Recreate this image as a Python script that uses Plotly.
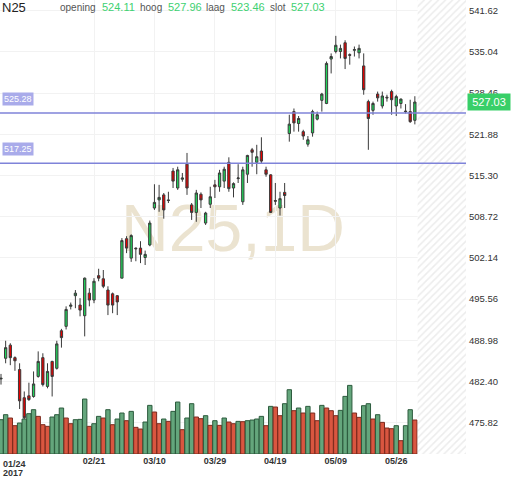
import plotly.graph_objects as go

# daily candles, 01/24 .. last session (index based x axis)
opens = [482.8, 486.1, 488.2, 486.2, 484.3, 479.8, 480.1, 480.0, 483.2, 486.2,
         481.6, 485.6, 484.5, 490.5, 491.2, 494.4, 496.1, 494.6, 492.9, 496.5,
         495.4, 499.3, 498.8, 497.0, 496.4, 496.1, 498.9, 505.2, 502.1, 503.7,
         503.7, 502.2, 504.2, 510.1, 511.4, 512.2, 511.4, 516.0, 513.3, 514.7,
         517.1, 510.6, 509.4, 512.3, 507.7, 510.7, 513.8, 513.5, 514.4, 517.4,
         513.3, 514.8, 511.1, 515.5, 519.4, 517.4, 519.2, 516.2, 515.4, 511.3,
         510.1, 512.6, 522.0, 525.5, 523.6, 522.3, 520.3, 522.1, 524.3, 527.3,
         526.8, 533.9, 535.1, 535.1, 536.5, 534.6, 535.3, 534.9, 532.8, 527.1,
         525.7, 528.3, 526.4, 527.8, 528.7, 526.4, 526.8, 525.6, 525.5, 524.11]
highs = [483.6, 488.9, 488.5, 486.4, 485.3, 480.8, 482.2, 484.0, 487.2, 486.9,
         485.3, 485.7, 488.9, 490.8, 494.4, 495.0, 497.0, 495.7, 499.0, 497.3,
         498.9, 500.4, 500.2, 497.6, 496.6, 496.2, 505.3, 505.6, 505.9, 503.8,
         504.8, 503.3, 508.1, 513.9, 513.8, 512.5, 512.7, 516.5, 516.7, 515.7,
         518.9, 510.9, 513.0, 512.6, 509.5, 513.5, 514.6, 516.2, 516.7, 518.2,
         514.2, 517.1, 516.7, 518.6, 519.7, 520.2, 521.4, 516.7, 515.5, 514.1,
         512.7, 514.1, 525.0, 526.0, 524.8, 522.6, 521.6, 525.8, 525.5, 528.5,
         533.5, 534.8, 537.6, 536.2, 536.9, 534.8, 535.9, 536.2, 534.8, 527.4,
         527.1, 528.7, 528.7, 528.2, 529.0, 528.2, 527.6, 526.7, 527.4, 527.96]
lows = [481.9, 485.3, 485.0, 484.1, 478.0, 476.4, 479.3, 479.8, 483.0, 481.6,
        481.3, 480.0, 484.3, 487.8, 490.7, 493.9, 494.1, 492.8, 489.6, 494.4,
        494.9, 498.4, 497.3, 493.0, 493.3, 493.0, 498.9, 502.9, 501.5, 501.6,
        501.3, 501.0, 504.0, 509.8, 509.5, 508.4, 510.9, 513.3, 513.0, 514.3,
        512.2, 508.2, 507.9, 510.1, 507.4, 510.1, 511.7, 512.7, 513.3, 512.7,
        511.8, 514.1, 510.6, 514.1, 516.7, 515.5, 517.3, 515.1, 509.3, 510.6,
        508.9, 510.1, 520.7, 522.3, 522.3, 521.0, 519.9, 521.5, 524.1, 525.5,
        526.7, 531.6, 534.8, 534.0, 532.3, 533.0, 534.3, 534.0, 528.2, 519.4,
        525.0, 527.1, 526.0, 527.1, 525.0, 524.8, 526.0, 525.2, 523.7, 523.46]
closes = [482.9, 487.8, 486.2, 485.7, 479.3, 476.6, 479.5, 482.0, 485.6, 481.9,
          484.0, 483.2, 488.4, 489.4, 493.9, 494.6, 496.5, 493.8, 498.9, 495.4,
          498.4, 498.9, 497.6, 494.6, 494.6, 495.1, 504.9, 503.7, 505.7, 503.6,
          502.7, 502.7, 507.7, 511.0, 511.8, 509.8, 511.3, 514.4, 516.2, 514.9,
          513.3, 509.4, 512.5, 511.4, 509.3, 511.9, 513.5, 515.7, 516.3, 513.2,
          514.0, 514.9, 516.2, 518.5, 519.0, 518.3, 517.6, 515.5, 509.4, 511.2,
          511.6, 512.1, 523.5, 523.7, 524.4, 521.6, 521.0, 525.5, 525.0, 528.3,
          533.2, 534.3, 536.1, 535.6, 534.0, 534.5, 535.4, 535.6, 529.0, 524.4,
          526.8, 527.7, 528.0, 527.7, 527.4, 527.9, 527.5, 525.5, 523.9, 527.03]
volumes = [103, 118, 108, 85, 93, 105, 121, 133, 113, 88,
           83, 111, 118, 138, 108, 91, 103, 104, 165, 83,
           91, 113, 108, 133, 88, 105, 123, 100, 128, 80,
           75, 96, 146, 126, 91, 105, 98, 128, 156, 73,
           108, 151, 111, 106, 115, 86, 100, 86, 108, 96,
           91, 98, 97, 100, 102, 105, 113, 85, 143, 141,
           115, 151, 193, 130, 138, 123, 143, 123, 100, 146,
           138, 130, 115, 131, 173, 206, 123, 110, 145, 151,
           105, 118, 95, 78, 76, 85, 40, 85, 133, 102]

tick_pos = [0, 20, 33, 46, 59, 72, 85]
tick_labels = ['', '02/21', '03/10', '03/29', '04/19', '05/09', '05/26']
first_label = '01/24'
year_label = '2017'

price_ticks = [475.82, 482.40, 488.98, 495.56, 502.14, 508.72,
               515.30, 521.88, 528.46, 535.04, 541.62]
levels = [525.28, 517.25]

symbol = 'N25'
price_range = [470.81, 543.33]
x_range = [-0.215, 100.0]

n = len(closes)
idx = list(range(n))

GREEN_V, GREEN_V_LINE = '#64a67c', '#2c5b3d'
RED_V, RED_V_LINE = '#d95640', '#7a2a1d'
vol_fill, vol_line = [], []
for i, v in enumerate(volumes):
    up = i == 0 or v > volumes[i - 1]
    vol_fill.append(GREEN_V if up else RED_V)
    vol_line.append(GREEN_V_LINE if up else RED_V_LINE)

fig = go.Figure()

# volume on the base axis so the candles (overlay axis) sit on top
fig.add_trace(go.Bar(
    x=idx, y=volumes, yaxis='y',
    marker=dict(color=vol_fill, line=dict(color=vol_line, width=1)),
    hoverinfo='skip', showlegend=False))

# hatched "future" zone
fig.add_trace(go.Scatter(
    x=[n - 0.4, x_range[1], x_range[1], n - 0.4],
    y=[price_range[0], price_range[0], price_range[1], price_range[1]],
    yaxis='y2', mode='none', fill='toself', fillcolor='white',
    fillpattern=dict(shape='/', fgcolor='#d9d9d9', bgcolor='white',
                     size=5, solidity=0.3),
    hoverinfo='skip', showlegend=False))

fig.add_trace(go.Candlestick(
    x=idx, open=opens, high=highs, low=lows, close=closes, yaxis='y2',
    increasing=dict(fillcolor='#22d35b', line=dict(color='#3a3a3a', width=1)),
    decreasing=dict(fillcolor='#e50000', line=dict(color='#3a3a3a', width=1)),
    whiskerwidth=0, showlegend=False))

shapes = []
for lv in levels:
    shapes.append(dict(type='line', xref='paper', x0=0, x1=1, yref='y2',
                       y0=lv, y1=lv, line=dict(color='#7f83d9', width=1.5)))
# watermark behind the candles
shapes.append(dict(type='rect', xref='paper', yref='paper', x0=0.2, x1=0.8,
                   y0=0.4, y1=0.62, line=dict(width=0), layer='below',
                   label=dict(text='N25,1D', textposition='middle center',
                              font=dict(size=66, color='#ebe3d0',
                                        family='Liberation Sans, Arial'))))

annotations = []
for lv in levels:
    annotations.append(dict(
        xref='paper', x=0, xanchor='left', xshift=2, yref='y2', y=lv,
        yanchor='bottom', yshift=7, text=f'{lv:.2f}', showarrow=False,
        bgcolor='#a9abea', borderpad=1,
        font=dict(size=9, color='white')))

annotations.append(dict(
    xref='paper', x=1, xanchor='left', xshift=1, yref='y2', y=closes[-1],
    text=f'{closes[-1]:.2f}', showarrow=False, bgcolor='#38cf68',
    borderpad=2, width=38, font=dict(size=11, color='white')))

for txt, dy in [(first_label, -3), (year_label, -12)]:
    annotations.append(dict(
        xref='paper', x=0, xanchor='left', xshift=1, yref='paper', y=0,
        yanchor='top', yshift=dy, text=txt, showarrow=False,
        font=dict(size=9, color='#333', weight='bold')))

# header line
header = [(symbol, 0, 13, '#222'),
          ('opening', 58, 10, '#555'), (f'{opens[-1]:.2f}', 100, 11, '#3dd171'),
          ('hoog', 138, 10, '#555'), (f'{highs[-1]:.2f}', 166, 11, '#3dd171'),
          ('laag', 204, 10, '#555'), (f'{lows[-1]:.2f}', 229, 11, '#3dd171'),
          ('slot', 268, 10, '#555'), (f'{closes[-1]:.2f}', 289, 11, '#3dd171')]
for txt, px, size, col in header:
    annotations.append(dict(
        xref='paper', x=0, xanchor='left', xshift=px, yref='paper', y=1,
        yanchor='middle', yshift=-7, text=txt, showarrow=False,
        font=dict(size=size, color=col)))

fig.update_layout(
    width=512, height=477,
    margin=dict(l=0, r=46, t=0, b=23),
    paper_bgcolor='white', plot_bgcolor='white',
    font=dict(family='Liberation Sans, Arial, sans-serif', color='#333'),
    bargap=0.06, showlegend=False, hovermode=False,
    shapes=shapes, annotations=annotations,
    xaxis=dict(range=x_range, rangeslider=dict(visible=False),
               tickmode='array', tickvals=tick_pos, ticktext=tick_labels,
               showgrid=True, gridcolor='#f2f2f2', zeroline=False,
               showline=False, ticks='', automargin=False,
               tickfont=dict(size=9, color='#333', weight='bold')),
    yaxis=dict(range=[0, 1363], visible=False, showgrid=False,
               fixedrange=True, automargin=False),
    yaxis2=dict(range=price_range, overlaying='y', side='right',
                tickmode='array', tickvals=price_ticks,
                ticktext=[f'{t:.2f}' for t in price_ticks],
                showgrid=True, gridcolor='#f2f2f2', zeroline=False,
                showline=False, ticks='', ticklabelstandoff=2,
                automargin=False,
                tickfont=dict(size=9.5, color='#333')),
)

# drop the browser's default 8px body margin
fig.write_html('out.html', config={'displayModeBar': False},
               post_script="document.body.style.margin='0';")
